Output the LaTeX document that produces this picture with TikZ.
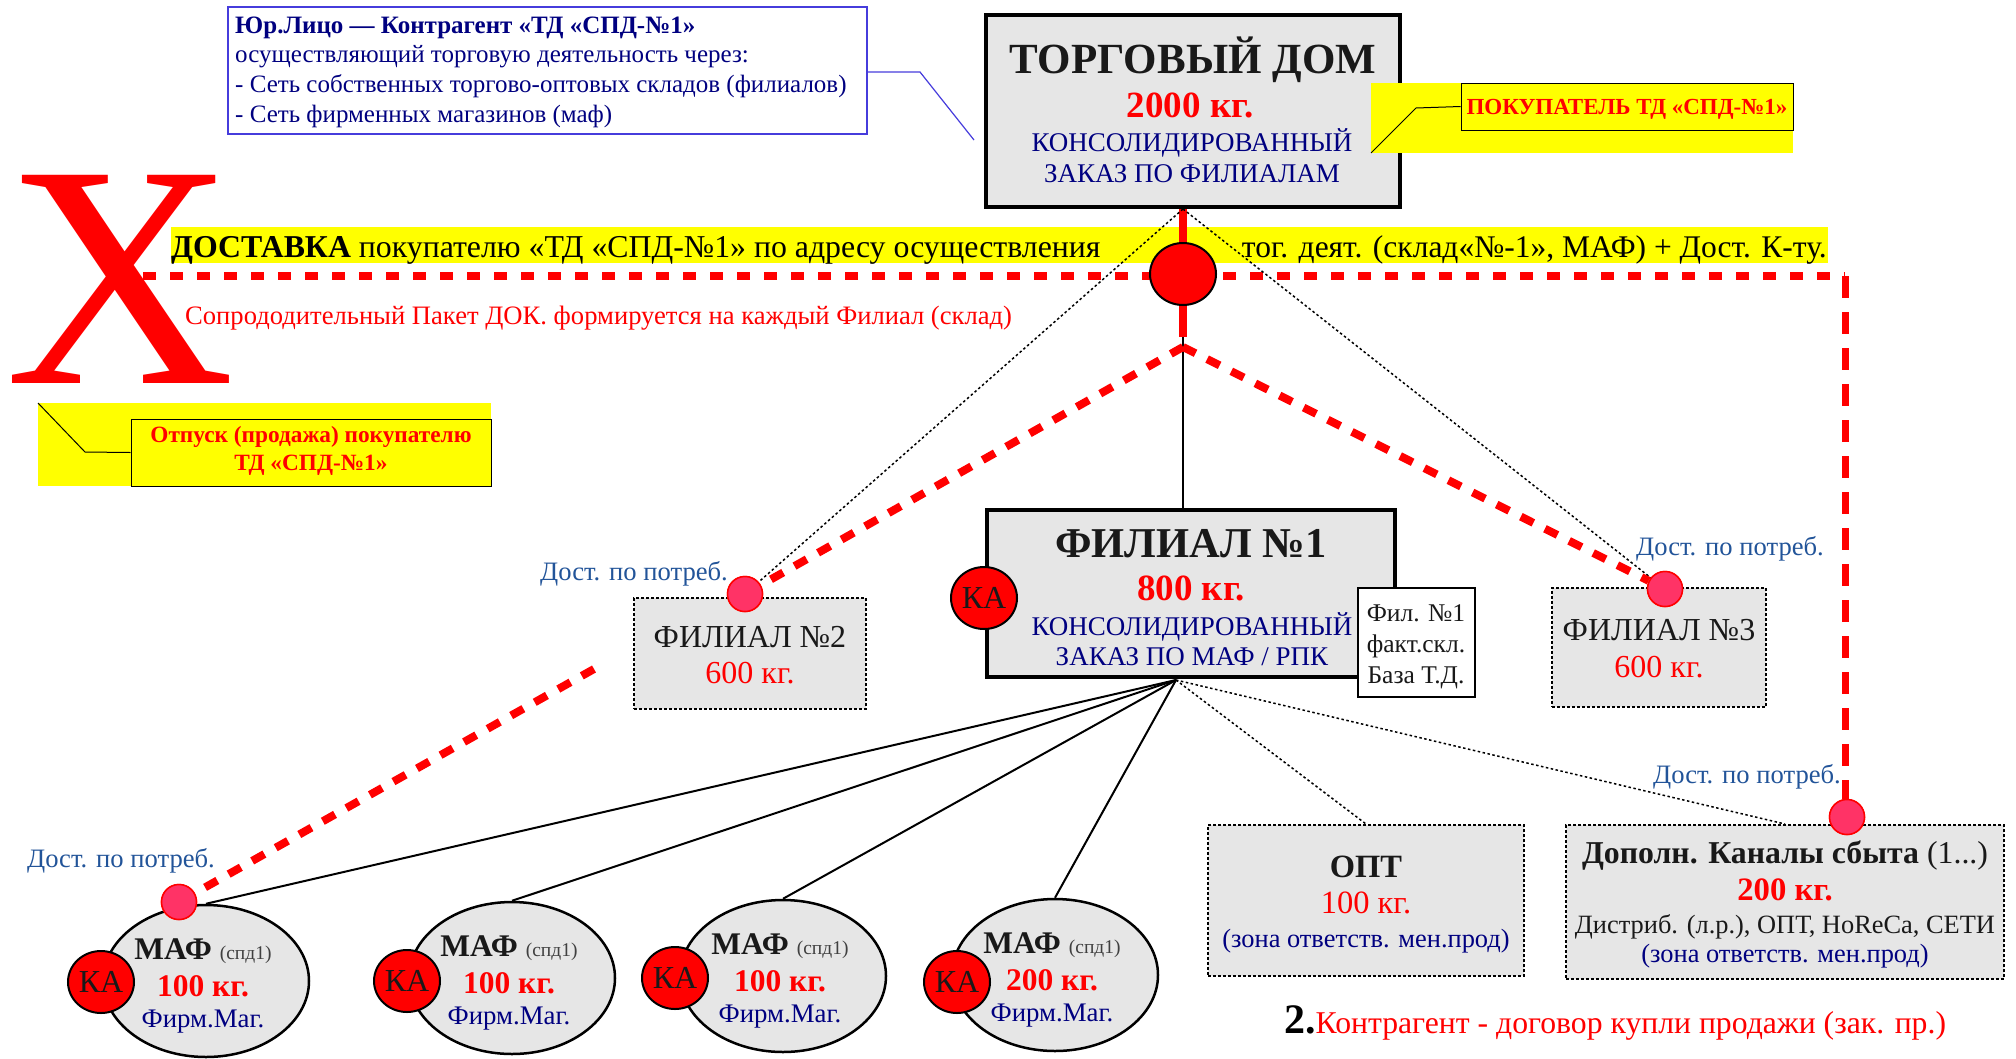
\documentclass[tikz,border=0pt]{standalone}
\usepackage{fontspec}
\setmainfont{Liberation Serif}
\usetikzlibrary{shapes.geometric}
\definecolor{navyT}{RGB}{0,0,128}
\definecolor{blueT}{RGB}{34,84,153}
\definecolor{grayF}{RGB}{230,230,230}
\definecolor{pinkF}{RGB}{255,51,102}
\definecolor{yel}{RGB}{255,255,0}
\definecolor{boxblue}{RGB}{70,60,220}
\newcommand{\fs}[1]{\fontsize{#1}{#1}\selectfont}
\begin{document}
\begin{tikzpicture}[x=1pt,y=-1pt,
  txt/.style={inner sep=0pt, anchor=base},
  solidbox/.style={rectangle, draw=black, line width=4pt, fill=grayF, inner sep=0pt},
  dotbox/.style={rectangle, draw=black, line width=2pt, dash pattern=on 3pt off 2pt, fill=grayF, inner sep=0pt},
  kacirc/.style={ellipse, draw=black, line width=2pt, fill=red, minimum width=66pt, minimum height=62pt, inner sep=0pt, font=\fs{32}, text=black!90},
  pinkdot/.style={circle, draw=red, fill=pinkF, line width=1.5pt, minimum size=35pt, inner sep=0pt},
  mafell/.style={ellipse, draw=black, line width=2.5pt, fill=grayF, minimum width=206pt, minimum height=152pt, inner sep=0pt},
  reddash/.style={red, line width=8pt, dash pattern=on 14pt off 13pt},
  reddot/.style={red, line width=8pt, dash pattern=on 13pt off 14pt},
  redvdash/.style={red, line width=7pt, dash pattern=on 22pt off 14pt},
  blackdot/.style={black, line width=1.5pt, dash pattern=on 2.5pt off 2.5pt},
  mafline/.style={black, line width=2pt},
]
\useasboundingbox (0,0) rectangle (2016,1058);

% ---------- top-left info box ----------
\node[rectangle, draw=boxblue, line width=1.5pt, fill=white, minimum width=639pt, minimum height=127pt, inner sep=0pt] (tlbox) at (547.5,70.5) {};
\node[txt, anchor=base west, text=navyT] (tl1) at (235,33) {\fs{25}\textbf{Юр.Лицо — Контрагент «ТД «СПД-№1»}};
\node[txt, anchor=base west, text=navyT] (tl2) at (235,62) {\fs{25}осуществляющий торговую деятельность через:};
\node[txt, anchor=base west, text=navyT] (tl3) at (235,92) {\fs{25}- Сеть собственных торгово-оптовых складов (филиалов)};
\node[txt, anchor=base west, text=navyT] (tl4) at (235,122) {\fs{25}- Сеть фирменных магазинов (маф)};
\coordinate (tlk) at (920,72);
\coordinate (tlend) at (974,140);
\draw[boxblue, line width=1.2pt] (tlbox.east |- tlk) -- (tlk) -- (tlend);

% ---------- yellow strip ----------
\fill[yel] (171,227) rectangle (1828,263);
\node[txt, anchor=base west] (dost1) at (171,257) {\fs{31.8}\textbf{ДОСТАВКА} покупателю «ТД «СПД-№1» по адресу осуществления};
\node[txt, anchor=base east] (dost2) at (1827,257) {\fs{31.5}тог. деят. (склад«№-1», МАФ) + Дост. К-ту.};

% ---------- big X ----------
\node[txt, text=red] (bigx) at (120,383) {\fs{318}X};
\node[txt, anchor=base west, text=red] (soprod) at (185,324) {\fs{26.6}Сопрододительный Пакет ДОК. формируется на каждый Филиал (склад)};

% ---------- Otpusk callout ----------
\fill[yel] (38,403) rectangle (491,486);
\node[rectangle, draw=black, line width=1pt, fill=yel, minimum width=360pt, minimum height=67pt, inner sep=0pt] (otpbox) at (311,452.5) {};
\node[txt, text=red] (otp1) at (311,442) {\fs{23.3}\textbf{Отпуск (продажа) покупателю}};
\node[txt, text=red] (otp2) at (311,470) {\fs{23.3}\textbf{ТД «СПД-№1»}};
\coordinate (otpa) at (38,403);
\coordinate (otpb) at (85,452);
\draw[black, line width=1pt] (otpa) -- (otpb) -- (otpbox.west);

% ---------- Torgovy Dom ----------
\node[solidbox, minimum width=414pt, minimum height=192pt] (td) at (1193,111) {};
\node[txt, text=black!90] (tdt1) at (1193,73) {\fs{43}\textbf{ТОРГОВЫЙ ДОМ}};
\node[txt, text=red] (tdt2) at (1190,117) {\fs{37}\textbf{2000 кг.}};
\node[txt, text=navyT] (tdt3) at (1192,151) {\fs{27}КОНСОЛИДИРОВАННЫЙ};
\node[txt, text=navyT] (tdt4) at (1192,182) {\fs{27}ЗАКАЗ ПО ФИЛИАЛАМ};

% ---------- Pokupatel callout ----------
\fill[yel] (1371,83) rectangle (1793,153);
\node[rectangle, draw=black, line width=1pt, fill=yel, minimum width=332pt, minimum height=47pt, inner sep=0pt] (pokbox) at (1627,106.5) {};
\node[txt, text=red] (pok) at (1627,114) {\fs{23}\textbf{ПОКУПАТЕЛЬ ТД «СПД-№1»}};
\coordinate (poka) at (1416,108);
\coordinate (pokb) at (1371,153);
\draw[black, line width=1pt] (pokbox.west) -- (poka) -- (pokb);

% ---------- coordinates for connectors ----------
\coordinate (tdb) at (1183,209);
\coordinate (redend) at (1183,337);
\coordinate (apex) at (1183,347);
\coordinate (f1b) at (1176,680);
\coordinate (xstart) at (143,276);
\coordinate (corner) at (1845,276);
\coordinate (cut) at (594,669);

% ---------- Filial 1 ----------
\node[solidbox, minimum width=408pt, minimum height=167pt] (f1) at (1191,593.5) {};
\node[txt, text=black!90] (f1t1) at (1191,557) {\fs{42.5}\textbf{ФИЛИАЛ №1}};
\node[txt, text=red] (f1t2) at (1191,600) {\fs{37}\textbf{800 кг.}};
\node[txt, text=navyT] (f1t3) at (1192,635) {\fs{27}КОНСОЛИДИРОВАННЫЙ};
\node[txt, text=navyT] (f1t4) at (1192,665) {\fs{27}ЗАКАЗ ПО МАФ / РПК};
\node[rectangle, draw=black, line width=2pt, fill=white, minimum width=117pt, minimum height=109pt, inner sep=0pt] (filbox) at (1416,642) {};
\node[txt, text=black!90] (fb1) at (1416,621) {\fs{25.5}Фил. №1};
\node[txt, text=black!90] (fb2) at (1416,652) {\fs{25.5}факт.скл.};
\node[txt, text=black!90] (fb3) at (1416,683) {\fs{25.5}База Т.Д.};
\node[kacirc] (ka0) at (984,598) {КА};

% ---------- Filial 2 / 3 ----------
\node[dotbox, minimum width=232pt, minimum height=111pt] (f2) at (750,653.5) {};
\node[txt, text=black!90] (f2t1) at (750,647) {\fs{32}ФИЛИАЛ №2};
\node[txt, text=red] (f2t2) at (750,683) {\fs{32}600 кг.};
\node[dotbox, minimum width=214pt, minimum height=119pt] (f3) at (1659,647.5) {};
\node[txt, text=black!90] (f3t1) at (1659,640) {\fs{32}ФИЛИАЛ №3};
\node[txt, text=red] (f3t2) at (1659,677) {\fs{32}600 кг.};

% ---------- OPT / Dop ----------
\node[dotbox, minimum width=316pt, minimum height=151pt] (opt) at (1366,900.5) {};
\node[txt, text=black!90] (optt1) at (1366,877) {\fs{32.5}\textbf{ОПТ}};
\node[txt, text=red] (optt2) at (1366,913) {\fs{32.5}100 кг.};
\node[txt, text=navyT] (optt3) at (1366,947) {\fs{26.4}(зона ответств. мен.прод)};
\node[dotbox, minimum width=438pt, minimum height=154pt] (dop) at (1785,902) {};
\node[txt, text=black!90] (dopt1) at (1785,863) {\fs{31.8}\textbf{Дополн. Каналы сбыта} (1...)};
\node[txt, text=red] (dopt2) at (1785,900) {\fs{32.7}\textbf{200 кг.}};
\node[txt, text=black!90] (dopt3) at (1785,933) {\fs{26.4}Дистриб. (л.р.), ОПТ, HoReCa, СЕТИ};
\node[txt, text=navyT] (dopt4) at (1785,962) {\fs{26.4}(зона ответств. мен.прод)};

% ---------- MAF ellipses ----------
\node[mafell] (maf1) at (206,981) {};
\node[mafell] (maf2) at (512,978) {};
\node[mafell] (maf3) at (783,976) {};
\node[mafell] (maf4) at (1055,975) {};
\foreach \n/\cx/\cy/\kg in {1/206/981/100, 2/512/978/100, 3/783/976/100, 4/1055/975/200} {
  \node[txt, text=black!90] (maft\n) at (\cx-3,\cy-22) {\fs{31.5}\textbf{МАФ} {\fs{19.5}\color{black!75}(спд1)}};
  \node[txt, text=red] (mafk\n) at (\cx-3,\cy+15) {\fs{31.5}\textbf{\kg\ кг.}};
  \node[txt, text=navyT] (maff\n) at (\cx-3,\cy+46) {\fs{26.8}Фирм.Маг.};
}
\node[kacirc] (ka1) at (101,982) {КА};
\node[kacirc] (ka2) at (407,981) {КА};
\node[kacirc] (ka3) at (675,978) {КА};
\node[kacirc] (ka4) at (957,982) {КА};

% ---------- connectors ----------
\draw[red, line width=8pt] (tdb) -- (redend);
\draw[black, line width=2pt] (redend) -- (redend |- f1.north);
\draw[reddot] (xstart) -- (corner);
\node[pinkdot] (dopp) at (1847,817) {};
\draw[redvdash] (corner) -- (dopp.north -| corner);

\node[pinkdot] (f2p) at (745,594) {};
\node[pinkdot] (f3p) at (1665,589) {};
\node[pinkdot] (mafp) at (179,902) {};

\draw[blackdot] (tdb) -- (f2p);
\draw[blackdot] (tdb) -- (f3p);
\draw[reddash] (apex) -- (f2p);
\draw[reddash] (apex) -- (f3p);
\draw[reddash] (cut) -- (mafp);

\draw[mafline] (f1b) -- (maf1.north);
\draw[mafline] (f1b) -- (maf2.north);
\draw[mafline] (f1b) -- (maf3.north);
\draw[mafline] (f1b) -- (maf4.north);
\draw[blackdot] (f1b) -- (opt.north);
\draw[blackdot] (f1b) -- (dop.north);

% redraw circles on top
\node[pinkdot] at (f2p) {};
\node[pinkdot] at (f3p) {};
\node[pinkdot] at (mafp) {};
\node[pinkdot] at (dopp) {};
\node[ellipse, draw=black, line width=2pt, fill=red, minimum width=66pt, minimum height=62pt, inner sep=0pt] (redc) at (1183,274) {};

% ---------- labels ----------
\node[txt, text=blueT] (lbl2) at (634,580) {\fs{26.6}Дост. по потреб.};
\node[txt, text=blueT] (lbl3) at (1730,555) {\fs{26.6}Дост. по потреб.};
\node[txt, text=blueT] (lblm) at (121,867) {\fs{26.6}Дост. по потреб.};
\node[txt, text=blueT] (lbld) at (1747,783) {\fs{26.6}Дост. по потреб.};
\node[txt, anchor=base west] (contr) at (1284,1033) {\fs{42}\textbf{2.}{\fs{31.7}\color{red}Контрагент - договор купли продажи (зак. пр.)}};
\end{tikzpicture}
\end{document}
